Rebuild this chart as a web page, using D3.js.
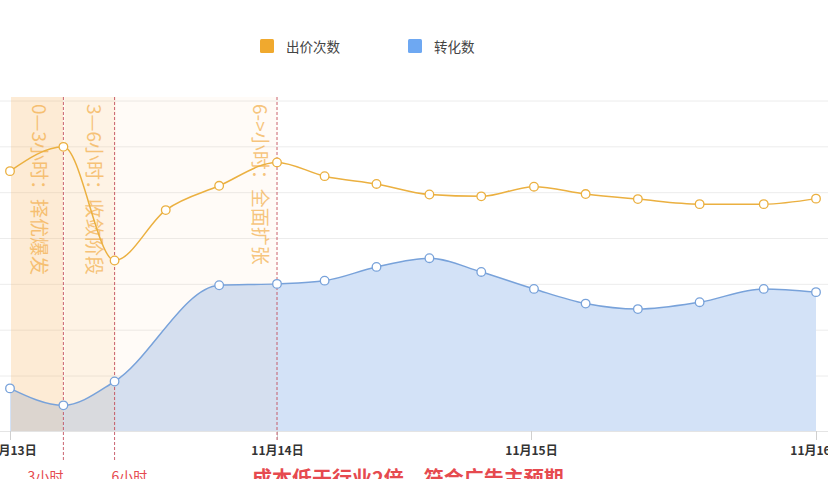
<!DOCTYPE html>
<html>
<head>
<meta charset="utf-8">
<script src="https://cdn.jsdelivr.net/npm/d3@7/dist/d3.min.js"></script>
<style>
  html, body { margin: 0; padding: 0; background: #fff; }
  svg { display: block; font-family: "Noto Sans CJK SC", "Noto Sans", sans-serif; }
</style>
</head>
<body>
<svg id="chart" width="828" height="479"></svg>
<script>
// ---- data ----
const hours = [0, 4.8, 9.4, 14, 18.8, 24, 28.5, 33.4, 38.4, 43.3, 48.25, 52.6, 57, 62.2, 67.6, 72];
const bids = [547, 600, 352, 462, 515, 566, 536, 519, 496, 492, 513, 497, 486, 475, 475, 487];
const conversions = [73, 36, 88, null, 298, 301, 308, 338, 357, 327, 290, 258, 246, 261, 290, 283];
const seriesNames = ["出价次数", "转化数"];
const dateTicks = [0, 24, 48, 72];
const dateLabels = ["11月13日", "11月14日", "11月15日", "11月16日"];
const yTicks = [100, 200, 300, 400, 500, 600, 700];
const markerHours = [4.8, 9.4, 24];
const bandRanges = [[0, 4.8], [4.8, 9.4], [9.4, 24]];
const phaseTexts = ["0—3小时：择优爆发", "3—6小时：收敛阶段", "6->小时：全面扩张"];
const phaseTextHours = [2.7, 7.7, 22.6];
const bottomNotes = ["3小时", "6小时", "成本低于行业2倍，符合广告主预期"];

// ---- styling ----
const ORANGE = "#ebb040";
const BLUE_LINE = "#78a2da";
const BLUE_FILL = "#d3e2f7";
const RED = "#e64a4f";

const svg = d3.select("#chart");

const x = d3.scaleLinear().domain(dateTicks).range([10, 277, 531, 816]);
const y = d3.scaleLinear().domain([-20, 700]).range([431, 101]);

// gridlines
svg.append("g")
  .selectAll("line")
  .data(yTicks)
  .join("line")
  .attr("x1", 0).attr("x2", 828)
  .attr("y1", d => y(d)).attr("y2", d => y(d))
  .attr("stroke", "#ececec").attr("stroke-width", 1);

// blue area
const convData = hours.map((h, i) => ({h, v: conversions[i]})).filter(d => d.v !== null);
const area = d3.area().x(d => x(d.h)).y0(y(-20)).y1(d => y(d.v)).curve(d3.curveMonotoneX);
svg.append("path").datum(convData).attr("d", area).attr("fill", BLUE_FILL);

// phase bands
const bandOpacity = [0.26, 0.16, 0.05];
svg.append("g").selectAll("rect")
  .data(bandRanges)
  .join("rect")
  .attr("x", d => x(d[0]) + 1)
  .attr("width", d => x(d[1]) - x(d[0]) - (d[0] === 0 ? 1 : 0))
  .attr("y", 97)
  .attr("height", y(-20) - 97)
  .attr("fill", "#f7b35c")
  .attr("opacity", (d, i) => bandOpacity[i]);

// x axis
const xAxis = d3.axisBottom(x)
  .tickValues(dateTicks)
  .tickFormat((d, i) => dateLabels[i])
  .tickSize(9)
  .tickPadding(6);
const gx = svg.append("g").attr("transform", `translate(0,${y(-20)})`).call(xAxis);
gx.select(".domain").attr("stroke", "#e4e4e4").attr("d", "M0,0.5H828");
gx.selectAll(".tick line").attr("stroke", "#d0d0d0");
gx.selectAll(".tick text")
  .attr("fill", "#333")
  .attr("font-size", 12)
  .attr("font-weight", "bold")
  .attr("font-family", "\"Noto Sans CJK SC\", sans-serif");

// phase marker dashed lines
svg.append("g").selectAll("line")
  .data(markerHours)
  .join("line")
  .attr("x1", d => x(d)).attr("x2", d => x(d))
  .attr("y1", 97)
  .attr("y2", (d, i) => i < 2 ? 462 : 441)
  .attr("stroke", "#c24a5a")
  .attr("stroke-width", 1)
  .attr("stroke-dasharray", "3,2")
  .attr("opacity", 0.85);

// vertical phase texts
svg.append("g").selectAll("text")
  .data(phaseTexts)
  .join("text")
  .attr("transform", (d, i) => `translate(${x(phaseTextHours[i])},104) rotate(90)`)
  .attr("dominant-baseline", "central")
  .attr("font-size", 19)
  .attr("fill", "#f2a534")
  .attr("opacity", 0.62)
  .text(d => d);

// blue line + points
const line = d3.line().x(d => x(d.h)).y(d => y(d.v)).curve(d3.curveMonotoneX);
svg.append("path").datum(convData).attr("d", line)
  .attr("fill", "none").attr("stroke", BLUE_LINE).attr("stroke-width", 1.5);
svg.append("g").selectAll("circle")
  .data(convData)
  .join("circle")
  .attr("cx", d => x(d.h)).attr("cy", d => y(d.v)).attr("r", 4.3)
  .attr("fill", "#fff").attr("stroke", BLUE_LINE).attr("stroke-width", 1.3);

// orange line + points
const bidData = hours.map((h, i) => ({h, v: bids[i]}));
svg.append("path").datum(bidData).attr("d", line)
  .attr("fill", "none").attr("stroke", ORANGE).attr("stroke-width", 1.5);
svg.append("g").selectAll("circle")
  .data(bidData)
  .join("circle")
  .attr("cx", d => x(d.h)).attr("cy", d => y(d.v)).attr("r", 4.3)
  .attr("fill", "#fff").attr("stroke", ORANGE).attr("stroke-width", 1.3);

// legend
const legendColors = ["#f0a92e", "#6ea8f2"];
const legendX = [260, 408];
const lg = svg.append("g").selectAll("g")
  .data(seriesNames)
  .join("g")
  .attr("transform", (d, i) => `translate(${legendX[i]},39)`);
lg.append("rect").attr("width", 14).attr("height", 14).attr("rx", 1.5)
  .attr("fill", (d, i) => legendColors[i]);
lg.append("text").attr("x", 26).attr("y", 7)
  .attr("dominant-baseline", "central")
  .attr("font-size", 13.5).attr("fill", "#444")
  .text(d => d);

// bottom red notes
const noteX = [x(markerHours[0]), x(markerHours[1]) - 3, x(markerHours[2]) - 25];
const noteAnchor = ["end", "start", "start"];
const noteSize = [14, 14, 20];
const noteY = [482, 482, 486];
svg.append("g").selectAll("text")
  .data(bottomNotes)
  .join("text")
  .attr("x", (d, i) => noteX[i])
  .attr("y", (d, i) => noteY[i])
  .attr("text-anchor", (d, i) => noteAnchor[i])
  .attr("font-size", (d, i) => noteSize[i])
  .attr("font-weight", (d, i) => i === 2 ? "bold" : "normal")
  .attr("fill", RED)
  .text(d => d);
</script>
</body>
</html>
